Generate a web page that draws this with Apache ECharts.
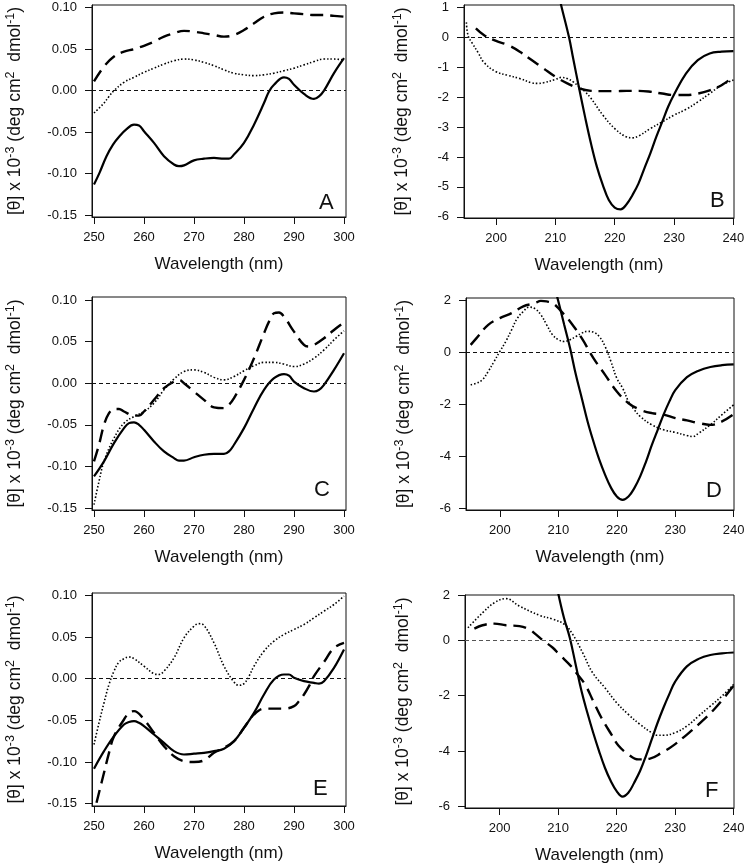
<!DOCTYPE html>
<html><head><meta charset="utf-8">
<script src="https://cdn.jsdelivr.net/npm/echarts@6/dist/echarts.min.js"></script>
<style>html,body{margin:0;padding:0;background:#fff}#chart{width:745px;height:864px}</style>
</head><body><div id="chart"></div>
<script>
// ---------- tick labels ----------
const nearXTicks = [250, 260, 270, 280, 290, 300];
const farXTicks = [200, 210, 220, 230, 240];
const nearYTicks = [-0.15, -0.10, -0.05, 0, 0.05, 0.10];
const nearYLabels = ['-0.15', '-0.10', '-0.05', '0.00', '0.05', '0.10'];
const bYTicks = [-6, -5, -4, -3, -2, -1, 0, 1];
const bYLabels = ['-6', '-5', '-4', '-3', '-2', '-1', '0', '1'];
const dYTicks = [-6, -4, -2, 0, 2];
const dYLabels = ['-6', '-4', '-2', '0', '2'];
const fYTicks = [-6, -4, -2, 0, 1.62];
const fYLabels = ['-6', '-4', '-2', '0', '2'];

// ---------- Panel A ----------
const aSolidX = [250,251.1,252.5,253.8,255.1,256.4,258,259,260,262,264,266,267,268,270,272,274,276,277,278,280,282,284,285,286,288,289,290,292,294,295,296,298,300];
const aSolidY = [-0.113,-0.099,-0.079,-0.065,-0.055,-0.047,-0.041,-0.042,-0.049,-0.063,-0.079,-0.089,-0.091,-0.090,-0.084,-0.082,-0.081,-0.082,-0.082,-0.077,-0.063,-0.041,-0.015,-0.001,0.007,0.016,0.014,0.007,-0.004,-0.010,-0.007,0.000,0.021,0.039];
const aDashX = [250,252,254,256,258,260,262,264,266,268,270,272,274,276,278,280,282,284,286,288,290,292,294,296,298,300];
const aDashY = [0.011,0.029,0.041,0.047,0.050,0.054,0.059,0.065,0.069,0.072,0.071,0.069,0.067,0.065,0.067,0.073,0.081,0.089,0.093,0.094,0.093,0.092,0.091,0.091,0.090,0.089];
const aDotX = [250,252,253,254,256,258,260,262,264,266,268,270,272,274,276,278,280,282,284,286,288,290,292,294,296,298,300];
const aDotY = [-0.027,-0.015,-0.007,0.000,0.010,0.016,0.022,0.027,0.032,0.036,0.038,0.037,0.034,0.030,0.025,0.021,0.019,0.018,0.019,0.021,0.024,0.027,0.031,0.035,0.038,0.038,0.037];

// ---------- Panel B ----------
const bSolidX = [210,211,212.3,213,214,215,216,217,218,219,220,221,222,223,224,225,226,227,228,229,230,232,234,236,238,240];
const bSolidY = [1.9,1.05,0,-0.71,-1.7,-2.66,-3.55,-4.33,-4.94,-5.44,-5.69,-5.75,-5.58,-5.27,-4.89,-4.38,-3.88,-3.33,-2.83,-2.32,-1.91,-1.21,-0.76,-0.54,-0.48,-0.46];
const bDashX = [196.6,198,200,202,204,206,208,210,212,214,216,218,220,222,224,226,228,230,232,234,236,238,240];
const bDashY = [0.3,0.07,-0.12,-0.26,-0.48,-0.76,-1.04,-1.32,-1.54,-1.71,-1.79,-1.80,-1.80,-1.79,-1.79,-1.82,-1.88,-1.93,-1.93,-1.88,-1.77,-1.60,-1.32];
const bDotX = [195,195.3,196,197,198,200,202,204,206,207,208,210,211,212,213,214,215,216,218,220,222,223,224,226,228,230,232,234,236,238,240];
const bDotY = [0.5,0.05,-0.2,-0.52,-0.85,-1.15,-1.27,-1.38,-1.52,-1.54,-1.52,-1.41,-1.34,-1.38,-1.49,-1.65,-1.82,-2.04,-2.60,-3.05,-3.33,-3.36,-3.30,-3.05,-2.83,-2.60,-2.41,-2.16,-1.88,-1.60,-1.43];

// ---------- Panel C ----------
const cSolidX = [250,252,254,256,257,258,259,260,262,264,266,267,268,270,272,274,276,277,278,280,282,284,286,288,289,290,292,294,295,296,298,300];
const cSolidY = [-0.112,-0.094,-0.072,-0.054,-0.048,-0.047,-0.050,-0.056,-0.070,-0.082,-0.090,-0.093,-0.093,-0.089,-0.086,-0.085,-0.085,-0.082,-0.074,-0.054,-0.030,-0.008,0.006,0.011,0.009,0.002,-0.006,-0.010,-0.008,-0.002,0.016,0.036];
const cDashX = [250,251,252,253,254,255,256,258,259,260,262,264,266,267,268,270,272,274,276,277,278,280,282,284,285,286,287,288,290,292,293,294,296,298,300];
const cDashY = [-0.094,-0.074,-0.050,-0.036,-0.031,-0.031,-0.034,-0.039,-0.039,-0.034,-0.020,-0.006,0.002,0.004,0.000,-0.010,-0.020,-0.029,-0.030,-0.026,-0.018,0.004,0.030,0.060,0.074,0.084,0.085,0.080,0.062,0.046,0.044,0.046,0.054,0.064,0.073];
const cDotX = [250,251,252,254,256,258,260,262,264,266,268,270,272,274,276,278,280,282,284,286,288,290,292,294,296,298,300];
const cDotY = [-0.146,-0.118,-0.094,-0.066,-0.048,-0.040,-0.034,-0.024,-0.008,0.005,0.014,0.016,0.013,0.007,0.004,0.008,0.015,0.021,0.025,0.025,0.023,0.020,0.023,0.030,0.040,0.052,0.063];

// ---------- Panel D ----------
const dSolidX = [209.5,210,211,212,213,214,215,216,217,218,219,220,221,222,223,224,225,226,227,228,229,230,232,234,236,238,240];
const dSolidY = [2.4,1.96,1.06,0.17,-0.86,-1.75,-2.65,-3.42,-4.12,-4.70,-5.19,-5.53,-5.66,-5.53,-5.21,-4.76,-4.19,-3.55,-2.97,-2.39,-1.88,-1.45,-0.95,-0.70,-0.56,-0.49,-0.46];
const dDashX = [195,196,198,200,202,204,206,207,208,209,210,211,212,214,216,218,220,222,224,226,228,230,232,234,236,238,240];
const dDashY = [0.29,0.55,1.06,1.32,1.51,1.77,1.89,1.98,1.96,1.89,1.70,1.45,1.19,0.55,-0.22,-0.86,-1.50,-1.95,-2.20,-2.33,-2.39,-2.52,-2.61,-2.71,-2.78,-2.65,-2.37];
const dDotX = [195,196,197,198,199,200,201,202,203,204,205,206,207,208,209,210,211,212,213,214,215,216,217,218,219,220,221,222,223,224,226,228,230,232,233,234,236,238,240];
const dDotY = [-1.24,-1.18,-1.05,-0.73,-0.35,0.04,0.42,0.87,1.32,1.57,1.74,1.68,1.45,1.06,0.68,0.49,0.42,0.49,0.61,0.74,0.81,0.78,0.61,0.23,-0.35,-0.99,-1.37,-1.88,-2.20,-2.46,-2.78,-2.97,-3.07,-3.19,-3.23,-3.10,-2.78,-2.39,-2.01];

// ---------- Panel E ----------
const eSolidX = [250,252,254,256,257,258,259,260,262,264,266,268,270,272,274,276,278,280,282,284,286,288,289,290,292,294,295,296,298,300];
const eSolidY = [-0.108,-0.087,-0.069,-0.055,-0.052,-0.051,-0.053,-0.057,-0.067,-0.077,-0.087,-0.091,-0.090,-0.089,-0.087,-0.084,-0.075,-0.059,-0.041,-0.019,-0.001,0.005,0.005,0.001,-0.003,-0.005,-0.006,-0.003,0.013,0.035];
const eDashX = [250.5,251,252,253,254,256,257,258,260,262,264,266,268,270,272,274,276,278,280,282,284,286,288,290,291,292,293,294,296,298,300];
const eDashY = [-0.149,-0.137,-0.113,-0.089,-0.069,-0.049,-0.041,-0.039,-0.049,-0.065,-0.081,-0.093,-0.099,-0.100,-0.098,-0.089,-0.083,-0.075,-0.059,-0.043,-0.036,-0.036,-0.036,-0.033,-0.027,-0.019,-0.009,0.003,0.020,0.037,0.043];
const eDotX = [250,251,252,253,254,255,256,257,258,260,262,263,264,266,268,270,271,272,274,276,278,279,280,281,282,284,286,288,290,292,294,296,298,300];
const eDotY = [-0.079,-0.053,-0.029,-0.007,0.009,0.020,0.024,0.026,0.024,0.015,0.006,0.005,0.009,0.025,0.049,0.063,0.066,0.064,0.043,0.015,-0.004,-0.008,-0.006,0.003,0.015,0.033,0.045,0.053,0.059,0.065,0.073,0.081,0.089,0.099];

// ---------- Panel F ----------
const fSolidX = [210,211,212,213,214,215,216,217,218,219,220,221,222,223,224,225,226,227,228,229,230,232,234,236,238,240];
const fSolidY = [1.7,0.80,0.08,-0.88,-1.84,-2.62,-3.34,-4.0,-4.6,-5.08,-5.44,-5.64,-5.5,-5.14,-4.72,-4.18,-3.58,-2.98,-2.44,-1.95,-1.5,-0.95,-0.68,-0.54,-0.48,-0.45];
const fDashX = [195.7,197.1,199.1,201.1,203.4,205.1,206.2,207.4,209.1,210.2,212.2,213.1,214.6,216,217.4,219.1,220.3,222,223.7,225.7,227.7,229.4,231.7,234,236.9,240];
const fDashY = [0.41,0.53,0.59,0.53,0.50,0.38,0.20,-0.01,-0.28,-0.52,-0.94,-1.18,-1.6,-2.2,-2.8,-3.4,-3.8,-4.12,-4.30,-4.27,-4.06,-3.84,-3.46,-3.04,-2.44,-1.64];
const fDotX = [194.6,197.1,199.1,201.1,203.4,206.8,209.1,211.1,212.5,214.2,215.9,218,220,222,224,226,227,228,230,232,234,236,238,240];
const fDotY = [0.44,0.98,1.34,1.49,1.22,0.89,0.75,0.56,0.20,-0.46,-1.18,-1.72,-2.26,-2.68,-3.04,-3.34,-3.43,-3.43,-3.34,-3.10,-2.74,-2.38,-2.02,-1.60];

// ---------- layout ----------
const FONT = '"Liberation Sans", Arial, Helvetica, sans-serif';
const panels = [
  {letter:'A', box:[92,5,254,212], xr:[249.6,300.4], yr:[-0.1522,0.1031], xt:nearXTicks, yt:nearYTicks, yl:nearYLabels, gap:66, lp:[319,192], s:[[aSolidX,aSolidY],[aDashX,aDashY],[aDotX,aDotY]]},
  {letter:'B', box:[464,5,270,213], xr:[194.6,240.1], yr:[-6.04,1.08], xt:farXTicks, yt:bYTicks, yl:bYLabels, gap:51, lp:[710,190], s:[[bSolidX,bSolidY],[bDashX,bDashY],[bDotX,bDotY]]},
  {letter:'C', box:[92,297,254,213], xr:[249.6,300.4], yr:[-0.1524,0.1036], xt:nearXTicks, yt:nearYTicks, yl:nearYLabels, gap:66, lp:[314,479], s:[[cSolidX,cSolidY],[cDashX,cDashY],[cDotX,cDotY]]},
  {letter:'D', box:[466,298,268,212], xr:[194.2,240.05], yr:[-6.05,2.09], xt:farXTicks, yt:dYTicks, yl:dYLabels, gap:51, lp:[706,480], s:[[dSolidX,dSolidY],[dDashX,dDashY],[dDotX,dDotY]]},
  {letter:'E', box:[92,593,254,213], xr:[249.6,300.4], yr:[-0.1528,0.1028], xt:nearXTicks, yt:nearYTicks, yl:nearYLabels, gap:66, lp:[313,778], s:[[eSolidX,eSolidY],[eDashX,eDashY],[eDotX,eDotY]]},
  {letter:'F', box:[465,595,269,213], xr:[194.1,240.05], yr:[-6.05,1.62], xt:farXTicks, yt:fYTicks, yl:fYLabels, gap:51, lp:[705,780], s:[[fSolidX,fSolidY],[fDashX,fDashY],[fDotX,fDotY]]}
];
const lineStyles = [
  {color:'#000', width:2.2, type:'solid'},
  {color:'#000', width:2.4, type:[13,7]},
  {color:'#000', width:1.6, type:[1.5,2]}
];
const yName = '[θ] x 10{sup|-3} (deg cm{sup|2}  dmol{sup|-1})';

const option = {animation:false, backgroundColor:'#fff', grid:[], xAxis:[], yAxis:[], series:[], title:[]};
panels.forEach((p, i) => {
  option.grid.push({left:p.box[0], top:p.box[1], width:p.box[2], height:p.box[3], show:true, borderColor:'#111', borderWidth:1, backgroundColor:'transparent', containLabel:false, outerBoundsMode:'none'});
  option.xAxis.push({
    gridIndex:i, type:'value', min:p.xr[0], max:p.xr[1],
    axisLine:{show:true, onZero:false, lineStyle:{color:'#111', width:1}},
    axisTick:{show:true, length:7, inside:false, customValues:p.xt, lineStyle:{color:'#111', width:1}},
    axisLabel:{customValues:p.xt, margin:14, fontSize:13, color:'#111', fontFamily:FONT},
    splitLine:{show:false},
    name:'Wavelength (nm)', nameLocation:'middle', nameGap:39,
    nameTextStyle:{fontSize:17, color:'#111', fontFamily:FONT}
  });
  const yt = p.yt, yl = p.yl;
  option.yAxis.push({
    gridIndex:i, type:'value', min:p.yr[0], max:p.yr[1],
    axisLine:{show:true, onZero:false, lineStyle:{color:'#111', width:1}},
    axisTick:{show:true, length:7, inside:false, customValues:yt, lineStyle:{color:'#111', width:1}},
    axisLabel:{customValues:yt, margin:15, fontSize:13, color:'#111', fontFamily:FONT,
      formatter: v => { const k = yt.findIndex(t => Math.abs(t - v) < 1e-6); return k >= 0 ? yl[k] : ''; }},
    splitLine:{show:false},
    name:yName, nameLocation:'middle', nameRotate:90, nameGap:p.gap,
    nameTextStyle:{fontSize:17.5, color:'#111', fontFamily:FONT, lineHeight:22,
      rich:{sup:{fontSize:12.5, lineHeight:12, verticalAlign:'top', color:'#111', fontFamily:FONT}}}
  });
  p.s.forEach((sv, j) => {
    const ser = {
      type:'line', xAxisIndex:i, yAxisIndex:i, data: sv[0].map((x, k) => [x, sv[1][k]]),
      showSymbol:false, symbol:'none', smooth:0.4, clip:true, silent:true,
      lineStyle:lineStyles[j], z: 3 - j
    };
    if (j === 0) {
      ser.markLine = {silent:true, symbol:['none','none'], label:{show:false},
        lineStyle:{color: p.letter === 'F' ? '#555' : '#111', width:1, type:[4,3]},
        data:[{yAxis:0}]};
    }
    option.series.push(ser);
  });
  option.title.push({text:p.letter, left:p.lp[0], top:p.lp[1], padding:0,
    textStyle:{fontSize:22, fontWeight:'normal', color:'#111', fontFamily:FONT}});
});

const chart = echarts.init(document.getElementById('chart'), null, {renderer:'canvas'});
chart.setOption(option);
</script></body></html>
